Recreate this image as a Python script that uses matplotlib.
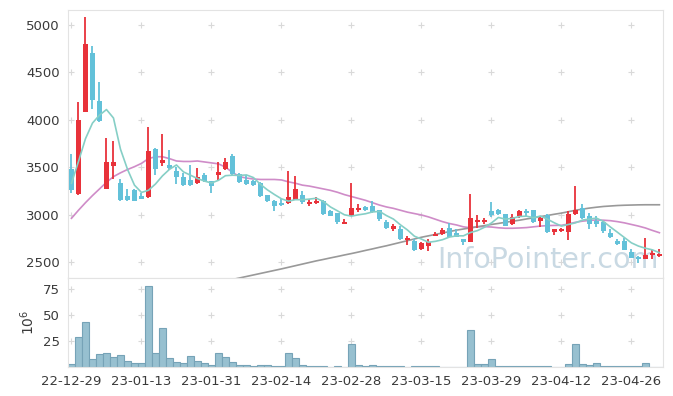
import matplotlib
matplotlib.use("Agg")
import matplotlib.pyplot as plt
import numpy as np

# daily candles (KRW), trading-day index 0..84
opens = [3482, 3216, 4085, 4702, 4199, 3269, 3510, 3330, 3194, 3258,
         3194, 3188, 3691, 3542, 3521, 3457, 3393, 3369, 3330, 3415,
         3351, 3418, 3482, 3617, 3429, 3368, 3351, 3333, 3202, 3145,
         3120, 3120, 3156, 3202, 3110, 3120, 3145, 3039, 3014, 2904,
         2986, 3043, 3078, 3095, 3043, 2925, 2848, 2848, 2730, 2725,
         2641, 2670, 2776, 2790, 2854, 2801, 2741, 2712, 2925, 2918,
         3039, 3050, 3007, 2897, 2986, 3039, 3043, 2933, 2996, 2811,
         2826, 2811, 3007, 3074, 2986, 2933, 2925, 2801, 2723, 2719,
         2606, 2553, 2535, 2571, 2557]
highs = [3638, 4188, 5085, 4784, 4394, 3805, 3773, 3372, 3266, 3266,
         3231, 3922, 3700, 3848, 3677, 3500, 3439, 3521, 3493, 3436,
         3355, 3553, 3593, 3641, 3440, 3415, 3360, 3340, 3210, 3150,
         3167, 3464, 3404, 3252, 3167, 3190, 3150, 3045, 3020, 2954,
         3333, 3113, 3090, 3145, 3050, 2943, 2904, 2875, 2773, 2740,
         2710, 2741, 2819, 2855, 2907, 2843, 2745, 3216, 2996, 2960,
         3131, 3060, 3010, 3003, 3045, 3056, 3050, 2975, 3005, 2850,
         2855, 3032, 3298, 3110, 3014, 2989, 2930, 2843, 2741, 2748,
         2641, 2560, 2748, 2624, 2635]
lows = [3231, 3210, 4080, 4110, 3980, 3265, 3380, 3145, 3145, 3141,
        3160, 3170, 3418, 3507, 3470, 3322, 3300, 3300, 3325, 3340,
        3231, 3358, 3465, 3420, 3330, 3315, 3300, 3185, 3130, 3039,
        3090, 3110, 3150, 3110, 3095, 3115, 2995, 2985, 2904, 2900,
        2980, 3025, 3035, 3020, 2933, 2843, 2827, 2735, 2677, 2620,
        2630, 2617, 2770, 2785, 2760, 2760, 2677, 2705, 2861, 2896,
        2978, 2995, 2875, 2890, 2960, 2986, 2910, 2872, 2805, 2783,
        2820, 2730, 3000, 2955, 2843, 2872, 2801, 2750, 2680, 2625,
        2540, 2489, 2530, 2528, 2550]
closes = [3258, 4000, 4798, 4209, 3982, 3553, 3553, 3152, 3152, 3141,
          3167, 3670, 3482, 3578, 3486, 3397, 3308, 3308, 3401, 3351,
          3298, 3447, 3553, 3428, 3340, 3322, 3308, 3191, 3138, 3095,
          3098, 3181, 3273, 3131, 3131, 3145, 3003, 2989, 2925, 2925,
          3074, 3071, 3043, 3024, 2954, 2854, 2883, 2741, 2755, 2624,
          2702, 2712, 2794, 2837, 2766, 2766, 2712, 2968, 2936, 2943,
          2996, 3003, 2879, 2978, 3039, 3018, 2918, 2968, 2811, 2843,
          2848, 3003, 3053, 2960, 2897, 2897, 2830, 2758, 2684, 2630,
          2545, 2535, 2571, 2599, 2578]
# volume in millions of shares
volumes = [2.6, 28.5, 43.0, 7.4, 12.2, 13.2, 9.3, 11.2, 5.5, 3.5,
           3.5, 77.6, 13.2, 37.2, 8.3, 4.5, 3.5, 10.3, 5.5, 3.5,
           1.6, 13.2, 9.3, 4.5, 1.6, 1.6, 0.7, 1.6, 1.6, 0.7,
           0.7, 13.2, 8.3, 1.6, 0.7, 0.7, 0.7, 0.1, 0.7, 0.1,
           22.1, 1.9, 0.6, 1.9, 0.6, 0.6, 0.6, 0.6, 0.1, 0.6,
           0.6, 0.6, 0.6, 0.1, 0.1, 0.1, 0.1, 35.5, 2.6, 2.6,
           7.7, 0.6, 0.6, 0.6, 0.6, 0.6, 0.6, 0.6, 0.6, 0.1,
           0.1, 2.6, 22.1, 2.6, 1.9, 3.5, 0.6, 0.6, 0.6, 0.6,
           0.6, 0.6, 3.5, 0.1, 0.1]
ma5 = [3330, 3560, 3800, 3965, 4049, 4108, 4019, 3690, 3478, 3310,
       3233, 3256, 3322, 3408, 3477, 3523, 3450, 3415, 3380, 3353,
       3333, 3361, 3410, 3415, 3413, 3418, 3390, 3318, 3260, 3211,
       3166, 3141, 3157, 3156, 3163, 3172, 3137, 3080, 3039, 2997,
       2983, 2997, 3008, 3027, 3033, 2989, 2952, 2891, 2837, 2771,
       2741, 2707, 2717, 2734, 2762, 2775, 2775, 2810, 2830, 2865,
       2911, 2969, 2951, 2960, 2979, 2983, 2966, 2984, 2951, 2912,
       2878, 2895, 2912, 2941, 2952, 2962, 2927, 2868, 2813, 2757,
       2701, 2667, 2644, 2627, 2597]
ma20 = [2960, 3045, 3125, 3200, 3270, 3340, 3400, 3440, 3475, 3505,
        3540, 3590, 3610, 3610, 3590, 3565, 3560, 3560, 3565, 3555,
        3545, 3535, 3500, 3445, 3400, 3385, 3375, 3370, 3370, 3370,
        3365, 3345, 3330, 3310, 3300, 3285, 3270, 3255, 3235, 3210,
        3190, 3170, 3150, 3125, 3100, 3080, 3065, 3045, 3025, 3010,
        2995, 2975, 2950, 2925, 2905, 2890, 2870, 2860, 2870, 2872,
        2868, 2860, 2855, 2855, 2858, 2862, 2870, 2878, 2883, 2885,
        2886, 2900, 2918, 2930, 2938, 2942, 2940, 2935, 2925, 2912,
        2895, 2878, 2858, 2832, 2808]
ma60 = [np.nan] * 20 + [
    2265, 2282, 2298, 2314, 2330, 2346, 2362, 2378, 2394, 2410,
    2426, 2443, 2460, 2477, 2494, 2511, 2526, 2542, 2557, 2573,
    2588, 2604, 2621, 2637, 2654, 2670, 2688, 2706, 2724, 2742,
    2760, 2775, 2790, 2805, 2820, 2835, 2847, 2859, 2871, 2883,
    2895, 2906, 2918, 2929, 2940, 2953, 2965, 2978, 2990, 3003,
    3015, 3030, 3045, 3057, 3068, 3077, 3085, 3090, 3095, 3098,
    3100, 3102, 3103, 3103, 3103]
tick_pos = [0, 10, 20, 30, 40, 50, 60, 70, 80]
tick_labels = ["22-12-29", "23-01-13", "23-01-31", "23-02-14", "23-02-28",
               "23-03-15", "23-03-29", "23-04-12", "23-04-26"]
price_ticks = [2500, 3000, 3500, 4000, 4500, 5000]
vol_ticks = [25, 50, 75]

UP = "#e8323a"
DOWN = "#63c1d9"
GRID = "#d9d9d9"
SPINE = "#e3e3e3"
TEXT = "#3a3a3a"

fig = plt.figure(figsize=(6.73, 3.96), dpi=100)
ax = fig.add_axes([0.101, 0.298, 0.884, 0.677])
axv = fig.add_axes([0.101, 0.0732, 0.884, 0.2248], sharex=ax)

x = np.arange(len(closes))
o = np.array(opens, float)
c = np.array(closes, float)
up = c >= o
colors = np.where(up, UP, DOWN)
body_lo = np.minimum(o, c)
body_h = np.maximum(np.abs(c - o), 12)

ax.vlines(x, lows, highs, colors=colors, lw=1.3, zorder=3)
ax.bar(x, body_h, bottom=body_lo, width=0.7, color=colors, zorder=4)

ax.plot(x, ma5, color="#86cfc6", lw=1.2, zorder=5)
ax.plot(x, ma20, color="#cf8cc8", lw=1.2, zorder=2)
ax.plot(x, ma60, color="#999999", lw=1.2, zorder=2)

ax.text(0.807, 0.037, "InfoPointer.com", transform=ax.transAxes, ha="center",
        va="baseline", fontsize=20.5, color="#c9d9e3", zorder=1)

axv.bar(x, volumes, width=1.0, color="#97c0d0", edgecolor="#76a3b7", lw=0.8)

for a, yt in ((ax, price_ticks), (axv, vol_ticks)):
    gx, gy = np.meshgrid(tick_pos, yt)
    a.scatter(gx.ravel(), gy.ravel(), marker="+", s=22, color=GRID,
              lw=0.8, zorder=0)
    a.set_yticks(yt)
    a.tick_params(length=0, labelsize=9.5, labelcolor=TEXT, pad=6)
    for s in a.spines.values():
        s.set_color(SPINE)

ax.set_xlim(-0.5, 84.5)
ax.set_ylim(2330, 5160)
axv.set_ylim(0, 85.6)
axv.set_xticks(tick_pos)
axv.set_xticklabels(tick_labels)
plt.setp(ax.get_xticklabels(), visible=False)
axv.set_ylabel("$10^6$", fontsize=10, color=TEXT, labelpad=4)

fig.savefig("out.png", dpi=100)
